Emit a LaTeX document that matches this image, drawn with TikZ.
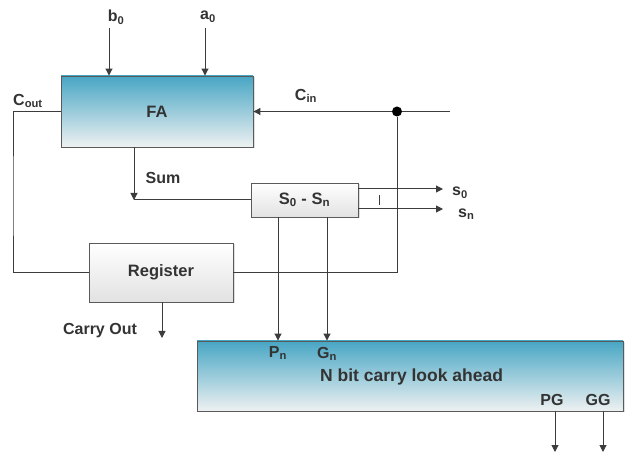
\documentclass[tikz,border=0pt]{standalone}
\usepackage{fontspec}
\setmainfont{Liberation Sans}
\usetikzlibrary{arrows.meta,shadows}
\definecolor{tealtop}{HTML}{48A6C4}
\definecolor{tealbot}{HTML}{EEF1F2}
\definecolor{graybot}{HTML}{E2E2E2}
\definecolor{boxline}{HTML}{5A5A5A}
\definecolor{wire}{HTML}{3C3C3C}
\definecolor{txt}{HTML}{333333}
\tikzset{
  blk/.style={draw=boxline,rectangle,line width=0.9pt,inner sep=0pt,
    font=\fontsize{16.5}{19}\selectfont\bfseries,text=txt,
    drop shadow={shadow xshift=1.5pt,shadow yshift=-1.5pt,opacity=0.25}},
  tealblk/.style={blk,top color=tealtop,bottom color=tealbot},
  grayblk/.style={blk,top color=white,bottom color=graybot},
  ln/.style={draw=wire,line width=1pt},
  arr/.style={ln,-{Triangle[length=7pt,width=7pt]}},
  lbl/.style={font=\fontsize{16}{19}\selectfont\bfseries,text=txt,inner sep=1pt},
  jdot/.style={circle,fill=black,minimum size=10pt,inner sep=0pt}
}
\begin{document}
\begin{tikzpicture}[x=1pt,y=-1pt]
  \useasboundingbox (0,0) rectangle (635,454);
  % blocks
  \node[tealblk,minimum width=192pt,minimum height=71pt] (fa) at (157,111.5) {FA};
  \node[grayblk,minimum width=107pt,minimum height=34pt] (sel) at (304.5,200) {S\textsubscript{0} - S\textsubscript{n}};
  \node[grayblk,minimum width=144pt,minimum height=59pt] (reg) at (161,272.5) {Register};
  \node[tealblk,minimum width=426pt,minimum height=70pt] (cla) at (410,376) {};

  % labels
  \node[lbl] (b0) at (116,17) {b\textsubscript{0}};
  \node[lbl] (a0) at (208,17) {a\textsubscript{0}};
  \node[lbl,anchor=west] (cout) at (12,101) {C\textsubscript{out}};
  \node[lbl] (cin) at (306,96) {C\textsubscript{in}};
  \node[lbl] (sum) at (163,178) {Sum};
  \node[lbl,anchor=west] (s0) at (451,193) {s\textsubscript{0}};
  \node[lbl,anchor=west] (sn) at (457,214) {s\textsubscript{n}};
  \node[lbl] (carry) at (100,331) {Carry Out};
  \node[lbl] (pn) at (278,353) {P\textsubscript{n}};
  \node[lbl] (gn) at (327,354) {G\textsubscript{n}};
  \node[lbl,anchor=west,font=\fontsize{17.5}{20}\selectfont\bfseries] (clatxt) at (319,377) {N bit carry look ahead};
  \node[lbl] (pg) at (552,400) {PG};
  \node[lbl] (gg) at (598,400) {GG};

  % wire ends
  \coordinate (bin) at (109,28);
  \coordinate (ain) at (205,28);
  \coordinate (cinend) at (450,111.5);
  \coordinate (coutc) at (13,200);
  \coordinate (sumj) at (134,200);
  \coordinate (s0end) at (443,189);
  \coordinate (snend) at (443,209);
  \coordinate (tick) at (379,200);
  \coordinate (coend) at (162,338);
  \coordinate (pgend) at (555,452);
  \coordinate (ggend) at (603,452);
  \node[jdot] (jn) at (397,111.5) {};

  \draw[arr] (bin) -- (bin |- fa.north);
  \draw[arr] (ain) -- (ain |- fa.north);
  \draw[ln] (fa.west) -| (coutc) |- (reg.west);
  \draw[ln] (cinend) -- (jn);
  \draw[arr] (jn) -- (fa.east);
  \draw[ln] (jn) |- (reg.east);
  \draw[arr] (fa.south -| sumj) -- (sumj);
  \draw[ln] (sumj) -- (sel.west);
  \draw[arr] (sel.east |- s0end) -- (s0end);
  \draw[arr] (sel.east |- snend) -- (snend);
  \draw[ln] ([yshift=5pt]tick) -- ([yshift=-5pt]tick);
  \draw[arr] (sel.south -| pn) -- (cla.north -| pn);
  \draw[arr] (sel.south -| gn) -- (cla.north -| gn);
  \draw[arr] (reg.south -| coend) -- (coend);
  \draw[arr] (cla.south -| pgend) -- (pgend);
  \draw[arr] (cla.south -| ggend) -- (ggend);
\end{tikzpicture}
\end{document}
